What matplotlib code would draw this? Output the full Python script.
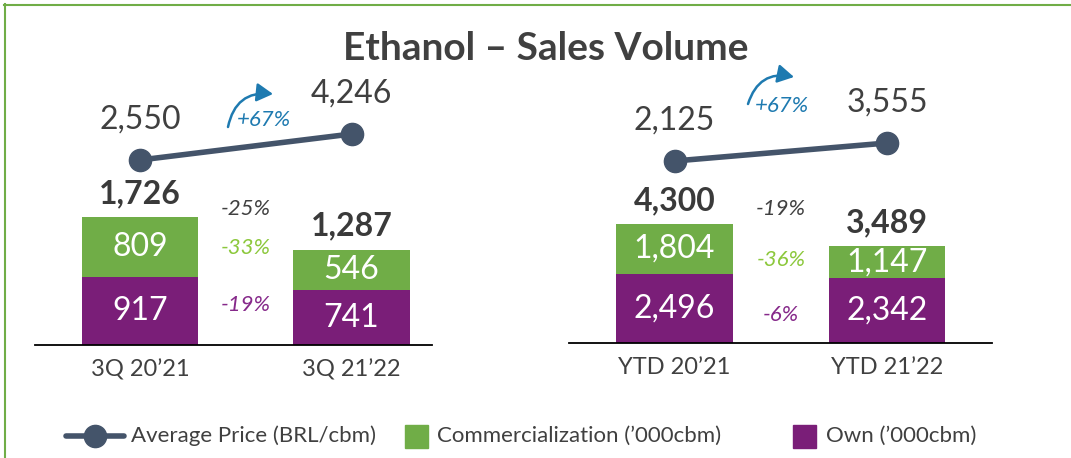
import matplotlib
matplotlib.use("Agg")
import matplotlib.pyplot as plt
from matplotlib.patches import Rectangle, FancyArrowPatch
from matplotlib.lines import Line2D

plt.rcParams['font.family'] = ['Lato', 'DejaVu Sans']

# ---------------- data ----------------
title = "Ethanol – Sales Volume"
left_periods = ["3Q 20’21", "3Q 21’22"]
right_periods = ["YTD 20’21", "YTD 21’22"]

left_own = [917, 741]
left_comm = [809, 546]
left_price = [2550, 4246]

right_own = [2496, 2342]
right_comm = [1804, 1147]
right_price = [2125, 3555]

left_pct = ["-25%", "-33%", "-19%"]     # total, commercialization, own
right_pct = ["-19%", "-36%", "-6%"]
price_pct = ["+67%", "+67%"]

legend_labels = ["Average Price (BRL/cbm)", "Commercialization (’000cbm)", "Own (’000cbm)"]

# ---------------- style ----------------
W, H = 1071, 458
GREEN = "#70AD47"
PURPLE = "#7A1E78"
LINE = "#44546A"
TXT = "#404040"
PCT_GREEN = "#8CC83C"
PCT_PURPLE = "#86298A"
BLUE = "#1E7AB0"

fig = plt.figure(figsize=(W / 100, H / 100), dpi=100)


def fbox(x0, x1, ytop, ybot):
    """pixel box (from top-left) -> figure fraction rect"""
    return [x0 / W, (H - ybot) / H, (x1 - x0) / W, (ybot - ytop) / H]


def panel(rect, xlim, ylim_bar, ylim_line, own, comm, price, periods, pct, pct_y):
    ax = fig.add_axes(rect)
    x = list(range(len(own)))
    totals = [a + b for a, b in zip(own, comm)]
    ax.bar(x, own, width=0.55, color=PURPLE, zorder=2)
    ax.bar(x, comm, width=0.55, bottom=own, color=GREEN, zorder=2)
    ax.set_xlim(*xlim)
    ax.set_ylim(*ylim_bar)
    for s in ["top", "left", "right"]:
        ax.spines[s].set_visible(False)
    ax.spines["bottom"].set_color("black")
    ax.spines["bottom"].set_linewidth(1.3)
    ax.set_yticks([])
    ax.set_xticks(x)
    ax.set_xticklabels(periods, fontsize=17, color=TXT)
    ax.tick_params(axis="x", length=0, pad=10)
    ax.patch.set_visible(False)
    for xi, o, c, t in zip(x, own, comm, totals):
        ax.text(xi, o / 2, f"{o:,}", ha="center", va="center", fontsize=23,
                color="white", zorder=3)
        ax.text(xi, o + c / 2, f"{c:,}", ha="center", va="center", fontsize=23,
                color="white", zorder=3)
        ax.annotate(f"{t:,}", (xi, t), xytext=(0, 10), textcoords="offset points",
                    ha="center", va="baseline", fontsize=23, fontweight="bold",
                    color="#3A3A3A")
    cols = [TXT, PCT_GREEN, PCT_PURPLE]
    for lab, yy, col in zip(pct, pct_y, cols):
        ax.text(0.5, yy, lab, transform=ax.get_xaxis_transform(), ha="center",
                va="center", fontsize=16, style="italic", color=col)

    lx = ax.twinx()
    lx.plot(x, price, color=LINE, lw=4, marker="o", ms=16, zorder=4,
            solid_capstyle="round")
    lx.set_ylim(*ylim_line)
    lx.axis("off")
    for xi, p in zip(x, price):
        lx.annotate(f"{p:,}", (xi, p), xytext=(0, 23), textcoords="offset points",
                    ha="center", va="baseline", fontsize=23, color=TXT)
    return ax


# left panel
panel(fbox(35, 432, 60, 345), (-0.4965, 1.3806), (0, 285 / (128 / 1726)),
      (2550 - 185 / (26 / 1696), 2550 + 100 / (26 / 1696)),
      left_own, left_comm, left_price, left_periods, left_pct,
      [0.477, 0.340, 0.140])

# right panel
panel(fbox(569, 992, 60, 343), (-0.4965, 1.494), (0, 283 / (119 / 4300)),
      (2125 - 182 / (18 / 1430), 2125 + 101 / (18 / 1430)),
      right_own, right_comm, right_price, right_periods, right_pct,
      [0.4735, 0.293, 0.099])

# ---------------- decoration overlay (pixel coordinates) ----------------
ov = fig.add_axes([0, 0, 1, 1], zorder=-1)
ov.set_xlim(0, W)
ov.set_ylim(H, 0)
ov.axis("off")

# border
ov.add_line(Line2D([4, W], [4.5, 4.5], color=GREEN, lw=1.5))
ov.add_line(Line2D([4.5, 4.5], [4, H], color=GREEN, lw=1.5))

# title
ov.text(546, 60, title, ha="center", va="baseline", fontsize=28,
        fontweight="bold", color=TXT)

ov2 = fig.add_axes([0, 0, 1, 1], zorder=5)
ov2.set_xlim(0, W)
ov2.set_ylim(H, 0)
ov2.axis("off")
# +67% arrows
for (sx, sy, ex, ey, tx, ty), lab in zip([(228, 127, 273, 94, 264, 120),
                                         (748, 104, 794, 77, 782, 106)], price_pct):
    arr = FancyArrowPatch((sx, sy), (ex, ey), connectionstyle="arc3,rad=-0.45",
                          arrowstyle="-|>,head_length=0.7,head_width=0.4",
                          color=BLUE, lw=1.8, mutation_scale=14,
                          shrinkA=0, shrinkB=0)
    ov2.add_patch(arr)
    ov2.text(tx, ty, lab, ha="center", va="center", fontsize=16,
             style="italic", color=BLUE)

# legend
ly = 436
ov2.add_line(Line2D([66, 124], [ly, ly], color=LINE, lw=4, solid_capstyle="round"))
ov2.add_line(Line2D([95], [ly], color=LINE, marker="o", ms=16))
ov2.text(131, ly, legend_labels[0], ha="left", va="center", fontsize=16, color=TXT)
ov2.add_patch(Rectangle((405, ly - 11.5), 23, 23, color=GREEN))
ov2.text(437, ly, legend_labels[1], ha="left", va="center", fontsize=16, color=TXT)
ov2.add_patch(Rectangle((793, ly - 11.5), 23, 23, color=PURPLE))
ov2.text(826, ly, legend_labels[2], ha="left", va="center", fontsize=16, color=TXT)

fig.savefig("out.png", dpi=100)
